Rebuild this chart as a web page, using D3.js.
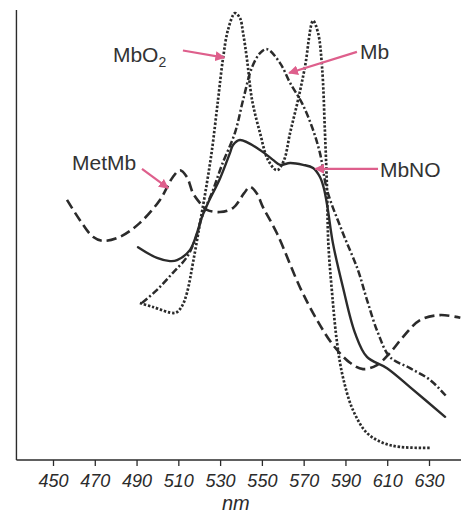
<!DOCTYPE html>
<html>
<head>
<meta charset="utf-8">
<script src="https://cdn.jsdelivr.net/npm/d3@7"></script>
<style>
  html, body { margin: 0; padding: 0; background: #fff; }
  svg { display: block; }
</style>
</head>
<body>
<svg id="chart"></svg>
<script>
// wavelength ticks (nm)
const ticks = [450, 470, 490, 510, 530, 550, 570, 590, 610, 630]

// spectra: [nm, relative absorbance]
const metMb = [
  [456.7, 57.8], [462.9, 53.3], [469.1, 49.6], [473.9, 48.7], [482.1, 49.6],
  [491.6, 52.7], [501.2, 57.8], [507.4, 62.9], [510.8, 64.4], [514.1, 62.9],
  [517.0, 59.3], [520.4, 57.1], [523.7, 55.6], [529.9, 55.1], [536.2, 56.0],
  [541.5, 59.3], [544.3, 60.7], [547.5, 59.3], [550.5, 56.2], [557.2, 50.4],
  [568.2, 38.4], [576.4, 31.1], [584.0, 25.6], [592.2, 21.6], [598.4, 20.2],
  [605.1, 21.1], [611.3, 23.8], [617.5, 27.3], [625.7, 31.1], [635.3, 32.2],
  [645.0, 31.6]
]

const mbO2 = [
  [491.6, 34.9], [497.9, 34.0], [508.4, 32.7], [511.5, 34.0], [514.1, 37.1],
  [517.0, 43.8], [520.4, 52.7], [523.7, 61.6], [526.1, 68.9], [529.0, 80.0],
  [531.4, 89.3], [533.8, 95.6], [537.1, 99.3], [539.5, 98.2], [541.0, 94.9],
  [542.9, 88.9], [545.3, 80.0], [549.1, 72.7], [552.9, 66.7], [557.2, 64.4],
  [560.5, 66.5], [563.5, 72.7], [567.3, 80.0], [570.6, 87.3], [574.5, 97.6],
  [576.9, 94.9], [578.8, 87.3], [580.2, 72.7], [581.2, 60.0], [581.8, 48.2],
  [583.6, 37.1], [586.0, 26.0], [588.8, 18.4], [593.6, 11.1], [600.3, 6.0],
  [608.0, 3.8], [616.1, 2.9], [630.5, 2.7]
]

const mb = [
  [492.6, 34.9], [499.8, 37.8], [507.4, 41.6], [514.1, 45.1], [518.0, 48.9],
  [521.3, 54.0], [526.6, 60.0], [530.9, 65.6], [537.1, 72.7], [541.0, 80.0],
  [545.3, 87.3], [549.1, 90.4], [552.4, 91.3], [558.7, 88.2], [563.5, 83.8],
  [569.2, 79.3], [574.0, 74.0], [577.8, 68.2], [581.2, 60.0], [588.8, 50.4],
  [596.0, 42.2], [600.3, 35.6], [605.6, 28.2], [611.3, 22.9], [620.9, 20.4],
  [630.5, 17.8], [638.6, 14.0]
]

const mbNO = [
  [490.7, 47.3], [499.8, 44.9], [506.0, 44.2], [509.4, 44.4], [515.6, 46.7],
  [518.9, 50.4], [521.3, 54.0], [524.2, 57.1], [529.9, 62.5], [534.7, 68.2],
  [536.2, 70.0], [539.5, 71.1], [549.1, 68.9], [555.3, 66.7], [558.7, 65.6],
  [563.5, 66.0], [569.7, 65.6], [574.5, 64.9], [577.8, 62.9], [579.6, 60.5],
  [581.4, 56.2], [584.0, 48.2], [588.8, 38.4], [594.6, 28.2], [600.3, 22.9],
  [609.9, 20.4], [620.9, 16.2], [637.7, 9.6]
]

const series = [
  { name: 'MetMb', values: metMb, dash: '10,5', width: 2.6 },
  { name: 'MbO2', values: mbO2, dash: '2.4,1.8', width: 2.7 },
  { name: 'Mb', values: mb, dash: '7,2.5,2,2.5', width: 2.5 },
  { name: 'MbNO', values: mbNO, dash: null, width: 2.4 }
]

// labels with arrows, in data units: text anchor, arrow start, arrow tip
const labels = [
  { text: 'MbO', sub: '2', at: [478.7, 88.4], from: [512.2, 91.0], to: [532.0, 89.4] },
  { text: 'Mb', sub: null, at: [597.0, 89.1], from: [595.5, 90.7], to: [563.0, 86.0] },
  { text: 'MetMb', sub: null, at: [459.1, 64.4], from: [492.6, 64.7], to: [505.1, 60.4] },
  { text: 'MbNO', sub: null, at: [606.5, 62.9], from: [605.6, 64.7], to: [575.6, 64.7] }
]

const width = 461
const height = 513
const ink = '#2b2b2b'
const pink = '#de5f8c'

const x = d3.scaleLinear().domain([450, 630]).range([53, 429])
const y = d3.scaleLinear().domain([0, 100]).range([460, 10])

const svg = d3.select('#chart').attr('width', width).attr('height', height)

svg.append('defs')
  .append('marker')
  .attr('id', 'head')
  .attr('viewBox', '0 0 10 10')
  .attr('refX', 9)
  .attr('refY', 5)
  .attr('markerWidth', 4.5)
  .attr('markerHeight', 4.5)
  .attr('markerUnits', 'strokeWidth')
  .attr('orient', 'auto')
  .append('path')
  .attr('d', 'M0,0L10,5L0,10z')
  .attr('fill', pink)

// axes: frame on the left and bottom
svg.append('line')
  .attr('x1', x(432.5)).attr('x2', x(432.5))
  .attr('y1', y(100)).attr('y2', y(0))
  .attr('stroke', ink).attr('stroke-width', 1.4)

const xAxis = d3.axisBottom(x).tickValues(ticks).tickSize(6).tickSizeOuter(0)

const gx = svg.append('g')
  .attr('transform', `translate(0,${y(0)})`)
  .call(xAxis)

gx.select('.domain').remove()
gx.selectAll('.tick line').attr('stroke', ink).attr('stroke-width', 1.3)
gx.selectAll('.tick text')
  .attr('fill', ink)
  .attr('y', 14)
  .attr('dy', '0.71em')
  .style('font-family', '"Liberation Sans", Arial, sans-serif')
  .style('font-style', 'italic')
  .style('font-size', '18px')

svg.append('line')
  .attr('x1', x(432.5)).attr('x2', width)
  .attr('y1', y(0)).attr('y2', y(0))
  .attr('stroke', ink).attr('stroke-width', 1.4)

svg.append('text')
  .attr('x', x(537.5))
  .attr('y', 510)
  .attr('text-anchor', 'middle')
  .attr('fill', ink)
  .style('font-family', '"Liberation Sans", Arial, sans-serif')
  .style('font-style', 'italic')
  .style('font-size', '20px')
  .text('nm')

const line = d3.line()
  .x(d => x(d[0]))
  .y(d => y(d[1]))
  .curve(d3.curveCatmullRom.alpha(0.5))

svg.append('g')
  .selectAll('path')
  .data(series)
  .join('path')
  .attr('d', d => line(d.values))
  .attr('fill', 'none')
  .attr('stroke', ink)
  .attr('stroke-width', d => d.width)
  .attr('stroke-dasharray', d => d.dash)
  .attr('stroke-linecap', d => (d.dash ? 'butt' : 'round'))
  .attr('stroke-linejoin', 'round')

const note = svg.append('g')
  .selectAll('g')
  .data(labels)
  .join('g')

note.append('line')
  .attr('x1', d => x(d.from[0]))
  .attr('y1', d => y(d.from[1]))
  .attr('x2', d => x(d.to[0]))
  .attr('y2', d => y(d.to[1]))
  .attr('stroke', pink)
  .attr('stroke-width', 2.2)
  .attr('marker-end', 'url(#head)')

const txt = note.append('text')
  .attr('x', d => x(d.at[0]))
  .attr('y', d => y(d.at[1]))
  .attr('fill', '#333')
  .style('font-family', '"Liberation Sans", Arial, sans-serif')
  .style('font-size', '21px')

txt.append('tspan').text(d => d.text)
txt.filter(d => d.sub)
  .append('tspan')
  .attr('dy', 5)
  .style('font-size', '14px')
  .text(d => d.sub)
</script>
</body>
</html>
